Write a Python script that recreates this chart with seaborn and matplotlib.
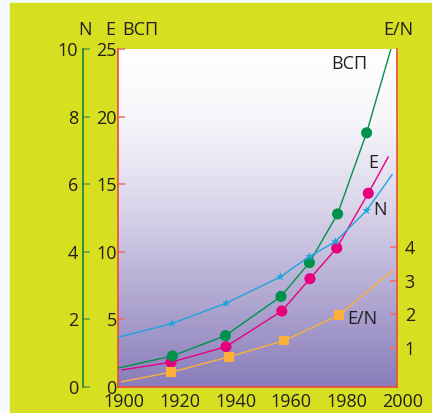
import numpy as np
import pandas as pd
import matplotlib
matplotlib.use("Agg")
import matplotlib.pyplot as plt
import matplotlib.transforms as mtransforms
from matplotlib.colors import LinearSegmentedColormap
from matplotlib.patches import Rectangle
import seaborn as sns

# ---------------------------------------------------------------------------
# data
# ---------------------------------------------------------------------------
vsp_years = [1900, 1919.5, 1938.5, 1958.4, 1968.6, 1978.7, 1989.1, 1997.8]
vsp_vals = [1.4, 2.3, 3.8, 6.7, 9.2, 12.8, 18.8, 25.0]          # E scale (0-25)

e_years = [1901.3, 1919.0, 1938.7, 1958.7, 1968.8, 1978.4, 1989.7, 1996.9]
e_vals = [1.26, 1.83, 2.98, 5.62, 8.01, 10.28, 14.33, 17.03]     # E scale

n_years = [1900, 1919.4, 1938.8, 1958.2, 1968.6, 1977.9, 1989.1, 1998.3]
n_vals = [1.47, 1.88, 2.48, 3.26, 3.86, 4.30, 5.22, 6.29]        # N scale (0-10)

en_years = [1901.3, 1919.0, 1939.9, 1959.6, 1979.3, 1998.3]
en_vals = [0.0, 0.28, 0.74, 1.22, 1.98, 3.29]                     # E/N scale

x_ticks = [1900, 1920, 1940, 1960, 1980, 2000]
e_ticks = [0, 5, 10, 15, 20, 25]
n_ticks = [0, 2, 4, 6, 8, 10]
en_ticks = [1, 2, 3, 4]

# colours
YELLOW = "#d7df21"
GREEN = "#00924a"
MAGENTA = "#e6007e"
BLUE = "#1fa3dc"
ORANGE = "#fbb03b"
RED = "#ee4a3c"
TICKRED = "#f07070"
NGREEN = "#1b7f3e"
TEXT = "#231f20"
FS = 13

sns.set_theme(style="white")
plt.rcParams["font.family"] = ["Open Sans", "DejaVu Sans"]

fig = plt.figure(figsize=(4.32, 4.13), dpi=100, facecolor="#f7fafc")
fig.patches.append(Rectangle((10 / 432, 0), 1 - 10 / 432, 410 / 413,
                             transform=fig.transFigure, color=YELLOW, zorder=-10))

ax = fig.add_axes([118 / 432, 26 / 413, 279 / 432, 338 / 413])

# gradient background of the plot area
cmap = LinearSegmentedColormap.from_list(
    "bg", [(0, "#897dba"), (0.3, "#b7aed5"), (0.55, "#dcd8ec"),
           (0.8, "#f7f7fb"), (1, "#ffffff")])
grad = np.linspace(1, 0, 256).reshape(-1, 1)
ax.imshow(grad, cmap=cmap, extent=[0, 1, 0, 1], transform=ax.transAxes,
          aspect="auto", zorder=0, vmin=0, vmax=1)

ax_n = ax.twinx()
ax_r = ax.twinx()


def draw_series(axis, xs, ys, color, marker, size):
    sns.lineplot(x=xs, y=ys, ax=axis, color=color, lw=1.0, sort=False,
                 estimator=None, zorder=3)
    sns.scatterplot(x=xs[1:-1], y=ys[1:-1], ax=axis, color=color, marker=marker,
                    s=size, edgecolor="none", linewidth=0, zorder=4)


draw_series(ax_r, en_years, en_vals, ORANGE, "s", 50)
draw_series(ax_n, n_years, n_vals, BLUE, "*", 42)
draw_series(ax, e_years, e_vals, MAGENTA, "o", 64)
draw_series(ax, vsp_years, vsp_vals, GREEN, "o", 64)

# ---- main axis (E) ----
ax.set_xlim(1900, 2000)
ax.set_ylim(0, 25)
ax.set_xticks(x_ticks)
ax.set_xticklabels([str(t) for t in x_ticks])
ax.set_yticks(e_ticks)
ax.set_yticklabels([str(t) for t in e_ticks])
ax.tick_params(axis="x", length=0, pad=4.5, labelsize=FS, colors=TEXT)
ax.tick_params(axis="y", direction="in", length=5, width=1.2, color=TICKRED,
               pad=1, labelsize=FS, labelcolor=TEXT)
for lab in ax.get_xticklabels():
    lab.set_transform(lab.get_transform() +
                      mtransforms.ScaledTranslation(0.06, 0, fig.dpi_scale_trans))
ax.spines["top"].set_visible(False)
ax.spines["right"].set_visible(False)
for s in ("left", "bottom"):
    ax.spines[s].set_color(RED)
    ax.spines[s].set_linewidth(1.2)
ax.set_xlabel("")
ax.set_ylabel("")

# ---- N axis ----
ax_n.set_ylim(0, 10)
ax_n.set_yticks(n_ticks)
ax_n.set_yticklabels([str(t) for t in n_ticks])
ax_n.yaxis.tick_left()
ax_n.spines["left"].set_visible(True)
ax_n.spines["left"].set_position(("outward", 25.2))
ax_n.spines["left"].set_color(NGREEN)
ax_n.spines["left"].set_linewidth(1.2)
for s in ("right", "top", "bottom"):
    ax_n.spines[s].set_visible(False)
ax_n.tick_params(axis="y", direction="in", length=5, width=1.2, color="#6aa436",
                 pad=3.5, labelsize=FS, labelcolor=TEXT)
ax_n.set_ylabel("")

# ---- E/N axis ----
ax_r.set_ylim(-0.157, 9.87)
ax_r.set_yticks(en_ticks)
ax_r.set_yticklabels([str(t) for t in en_ticks])
for s in ("left", "top", "bottom"):
    ax_r.spines[s].set_visible(False)
ax_r.spines["right"].set_color(RED)
ax_r.spines["right"].set_linewidth(1.2)
ax_r.tick_params(axis="y", direction="in", length=5, width=1.2, color=TICKRED,
                 pad=5.5, labelsize=FS, labelcolor=TEXT)
ax_r.set_ylabel("")

# ---- headers ----
for txt, xa in [("N", -0.118), ("E", -0.027), ("ВСП", 0.079), ("E/N", 1.004)]:
    ax.text(xa, 1.056, txt, transform=ax.transAxes, ha="center", va="center",
            fontsize=FS, color=TEXT)

# ---- labels inside the plot ----
ax.text(1983.0, 23.9, "ВСП", ha="center", va="center", fontsize=FS, color=TEXT, zorder=5)
ax.text(1991.5, 16.6, "E", ha="center", va="center", fontsize=FS, color=TEXT, zorder=5)
ax.text(1993.9, 13.1, "N", ha="center", va="center", fontsize=FS, color=TEXT, zorder=5)
ax.text(1987.6, 5.0, "E/N", ha="center", va="center", fontsize=FS, color=TEXT, zorder=5)

fig.savefig("out.png", dpi=100, facecolor=fig.get_facecolor())
